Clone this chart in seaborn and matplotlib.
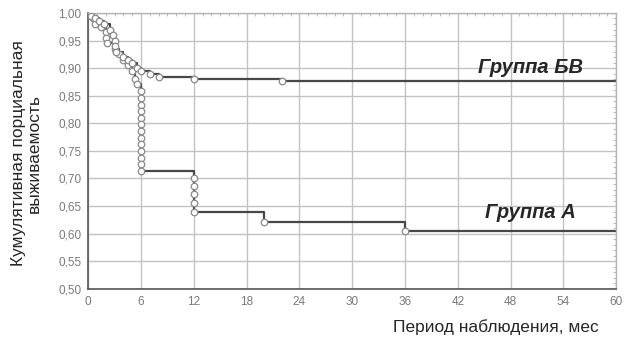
import matplotlib
matplotlib.use("Agg")
import matplotlib.pyplot as plt
from matplotlib.ticker import MultipleLocator, FuncFormatter
import seaborn as sns
import pandas as pd

sns.set_style("white")
plt.rcParams['font.family'] = ['Liberation Sans', 'DejaVu Sans']

# Kaplan-Meier step points (time in months, cumulative survival)
time_a = [0.5, 0.8, 1.5, 2.0, 2.0, 2.2, 3.0, 3.5, 4.0, 4.5, 5.0, 5.3, 5.6,
          6, 6, 6, 6, 6, 6, 6, 6, 6, 6, 6, 6, 6,
          12, 12, 12, 12, 12, 20, 36]
surv_a = [0.99, 0.98, 0.975, 0.965, 0.955, 0.945, 0.935, 0.925, 0.915, 0.905, 0.895, 0.88, 0.872,
          0.858, 0.846, 0.834, 0.822, 0.810, 0.798, 0.786, 0.774, 0.762, 0.750, 0.738, 0.726, 0.714,
          0.700, 0.686, 0.672, 0.656, 0.639, 0.621, 0.605]

time_bv = [0.3, 0.8, 1.2, 1.8, 2.5, 2.8, 3.0, 3.0, 3.2, 4.0, 4.5, 5.0, 5.5, 6.0, 7.0, 8.0, 12, 22]
surv_bv = [0.995, 0.99, 0.985, 0.98, 0.97, 0.96, 0.95, 0.94, 0.93, 0.92, 0.915, 0.91, 0.90,
           0.895, 0.890, 0.884, 0.880, 0.876]

t_end = 60
x_ticks = [0, 6, 12, 18, 24, 30, 36, 42, 48, 54, 60]

rows = []
for name, tt, ss in [("A", time_a, surv_a), ("BV", time_bv, surv_bv)]:
    rows.append((name, 0.0, 1.0))
    for t, s in zip(tt, ss):
        rows.append((name, t, s))
    rows.append((name, t_end, ss[-1]))
curves = pd.DataFrame(rows, columns=["group", "t", "s"])
events = pd.DataFrame({"group": ["A"] * len(time_a) + ["BV"] * len(time_bv),
                       "t": time_a + time_bv, "s": surv_a + surv_bv})

fig = plt.figure(figsize=(6.25, 3.41), dpi=100)
ax = fig.add_axes([0.141, 0.153, 0.845, 0.809])

sns.lineplot(data=curves, x="t", y="s", hue="group", palette=["#474747", "#474747"],
             estimator=None, sort=False, drawstyle="steps-post", linewidth=1.6,
             legend=False, ax=ax)
sns.scatterplot(data=events, x="t", y="s", color="white", edgecolor="#8a8a8a",
                linewidth=0.9, s=22, legend=False, ax=ax, zorder=3)

ax.set_xlim(0, 60)
ax.set_ylim(0.5, 1.0)
ax.set_xticks(x_ticks)
ax.yaxis.set_major_locator(MultipleLocator(0.05))
ax.yaxis.set_minor_locator(MultipleLocator(0.01))
ax.xaxis.set_minor_locator(MultipleLocator(1))
ax.yaxis.set_major_formatter(FuncFormatter(lambda v, p: f"{v:.2f}".replace(".", ",")))
ax.tick_params(axis="both", which="major", length=0, labelsize=8.5, labelcolor="#7a7a7a", pad=5)
ax.tick_params(axis="both", which="minor", length=2, direction="in", color="#b0b0b0",
               top=True, right=True)
ax.grid(True, which="major", color="#c2c2c2", linewidth=1.0)
for side in ["left", "bottom"]:
    ax.spines[side].set_color("#555555")
    ax.spines[side].set_linewidth(1.2)
for side in ["top", "right"]:
    ax.spines[side].set_color("#b5b5b5")
    ax.spines[side].set_linewidth(1.0)

ax.set_xlabel("")
ax.set_ylabel("")
fig.text(0.958, 0.04, "Период наблюдения, мес", ha="right", va="center", fontsize=12.5)
fig.text(0.042, 0.55, "Кумулятивная порциальная\nвыживаемость", ha="center", va="center",
         rotation=90, fontsize=12.5, linespacing=1.0)

ax.text(50.3, 0.902, "Группа БВ", ha="center", va="center", fontsize=14.5,
        fontweight="bold", fontstyle="italic")
ax.text(50.3, 0.638, "Группа А", ha="center", va="center", fontsize=14.5,
        fontweight="bold", fontstyle="italic")

fig.savefig("out.png", dpi=100)
